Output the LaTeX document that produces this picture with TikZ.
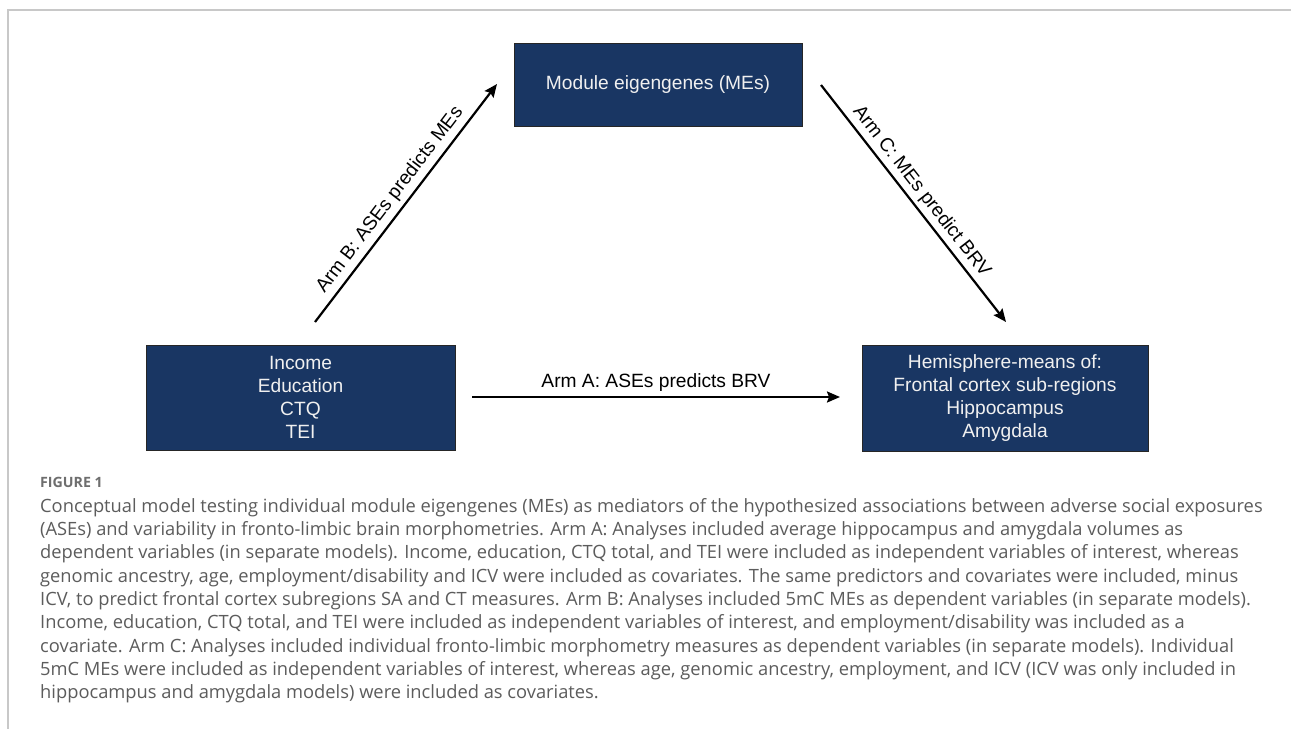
\documentclass[tikz,border=0pt]{standalone}
\usepackage{fontspec}
\setmainfont{Liberation Sans}
\newfontfamily\capfont{Open Sans}
\usetikzlibrary{arrows.meta}
\definecolor{navy}{RGB}{25,54,99}
\definecolor{capgray}{RGB}{92,92,92}
\definecolor{figgray}{RGB}{110,110,110}
\definecolor{framegray}{RGB}{200,200,200}
\begin{document}
\begin{tikzpicture}[x=1pt,y=-1pt,
  navybox/.style={draw=black!85, line width=1pt, fill=navy, text=white!94!black, font=\fontsize{19.2}{23}\selectfont, align=center, inner sep=0pt},
  arr/.style={-{Stealth[length=13pt,width=11pt,inset=2pt]}, line width=2.2pt, black},
  lbl/.style={font=\fontsize{19.2}{23}\selectfont, text=black, inner sep=0pt},
  capline/.style={font=\capfont\fontsize{18.3}{23.3}\selectfont, text=capgray, anchor=base west, inner sep=0pt},
  framerule/.style={draw=framegray, line width=2pt}]
\useasboundingbox (0,0) rectangle (1291,729);
\fill[white] (0,0) rectangle (1291,729);
% frame
\coordinate (ftl) at (7.5,9.5);
\coordinate (ftr) at (1291,9.5);
\coordinate (fbl) at (7.5,729);
\draw[framerule] (ftr) -- (ftl) -- (fbl);
% boxes
\node[navybox, minimum width=288pt, minimum height=83pt] (me) at (658,84.5) {Module eigengenes (MEs)};
\node[navybox, minimum width=309pt, minimum height=105pt] (ase) at (300.5,397.5) {Income\\Education\\CTQ\\TEI};
\node[navybox, minimum width=286pt, minimum height=106pt] (brv) at (1005,398) {Hemisphere-means of:\\Frontal cortex sub-regions\\Hippocampus\\Amygdala};
% arrow end points
\coordinate (bs) at (315,322);
\coordinate (be) at (497,84);
\coordinate (cs) at (821,85);
\coordinate (ce) at (1006,322);
\coordinate (as) at (472,397);
\coordinate (ae) at (840,397);
\draw[arr] (bs) -- node[lbl, sloped, above=4.5pt, pos=0.476] (lb) {Arm B: ASEs predicts MEs} (be);
\draw[arr] (cs) -- node[lbl, sloped, above=3.5pt, pos=0.485] (lc) {Arm C: MEs predict BRV} (ce);
\draw[arr] (as) -- node[lbl, above=4.5pt] (la) {Arm A: ASEs predicts BRV} (ae);
% caption
\node[anchor=base west, inner sep=0pt, text=figgray, font=\capfont\bfseries\fontsize{14.2}{16}\selectfont] (fig) at (40,487) {FIGURE 1};
\node[capline] (c1) at (40,512.0) {Conceptual model testing individual module eigengenes (MEs) as mediators of the hypothesized associations between adverse social exposures};
\node[capline] (c2) at (40,535.35) {(ASEs) and variability in fronto-limbic brain morphometries. Arm A: Analyses included average hippocampus and amygdala volumes as};
\node[capline] (c3) at (40,558.7) {dependent variables (in separate models). Income, education, CTQ total, and TEI were included as independent variables of interest, whereas};
\node[capline] (c4) at (40,582.05) {genomic ancestry, age, employment/disability and ICV were included as covariates. The same predictors and covariates were included, minus};
\node[capline] (c5) at (40,605.4) {ICV, to predict frontal cortex subregions SA and CT measures. Arm B: Analyses included 5mC MEs as dependent variables (in separate models).};
\node[capline] (c6) at (40,628.75) {Income, education, CTQ total, and TEI were included as independent variables of interest, and employment/disability was included as a};
\node[capline] (c7) at (40,652.1) {covariate. Arm C: Analyses included individual fronto-limbic morphometry measures as dependent variables (in separate models). Individual};
\node[capline] (c8) at (40,675.45) {5mC MEs were included as independent variables of interest, whereas age, genomic ancestry, employment, and ICV (ICV was only included in};
\node[capline] (c9) at (40,698.8) {hippocampus and amygdala models) were included as covariates.};
\end{tikzpicture}
\end{document}
